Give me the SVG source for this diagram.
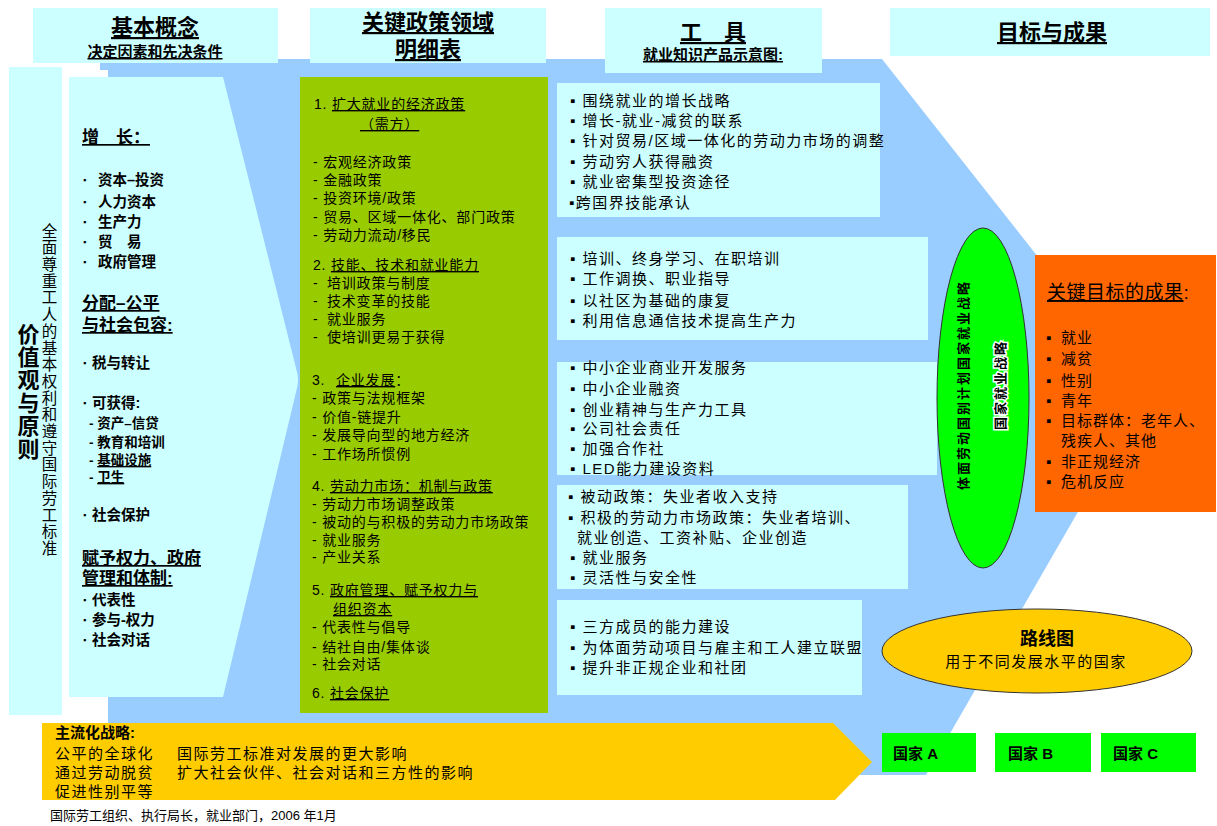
<svg xmlns="http://www.w3.org/2000/svg" width="1217" height="826" viewBox="0 0 1217 826">
<style>
.cy{fill:#CCFFFF}
text{font-family:'Liberation Sans','Noto Sans CJK SC',sans-serif;fill:#000}
.h{font-size:22px;font-weight:bold;text-decoration:underline;text-anchor:middle}
.hs{font-size:15px;font-weight:bold;text-decoration:underline;text-anchor:middle}
.lh{font-size:17px;font-weight:bold}
.lb{font-size:14.5px;font-weight:bold}
.ls{font-size:13.5px;font-weight:bold}
.bu{font-size:9px}
.u{text-decoration:underline}
.g{font-size:14px;letter-spacing:0.8px}
.tl{font-size:15px;letter-spacing:1.5px}
.ob{font-size:15px;letter-spacing:1px}
.cb{font-size:15px;font-weight:bold}
</style>
<rect width="1217" height="826" fill="#FFFFFF"/>
<g id="background">
<polygon points="100,59 882,59 1146,394 926,775 108,775 108,70 100,70" fill="#99CCFF"/>
</g>
<g id="header-concepts">
<rect class="cy" x="33" y="8" width="245" height="55"/>
<text class="h" x="155" y="35">基本概念</text>
<text class="hs" x="155" y="57">决定因素和先决条件</text>
</g>
<g id="header-policy">
<rect class="cy" x="310" y="8" width="236" height="55"/>
<text class="h" x="428" y="30">关键政策领域</text>
<text class="h" x="428" y="57">明细表</text>
</g>
<g id="header-tools">
<rect class="cy" x="605" y="8" width="217" height="65"/>
<text class="h" x="713" y="40">工　具</text>
<text class="hs" x="713" y="60">就业知识产品示意图:</text>
</g>
<g id="header-goals">
<rect class="cy" x="890" y="8" width="320" height="48"/>
<text class="h" x="1052" y="40">目标与成果</text>
</g>
<g id="values">
<rect class="cy" x="9" y="67" width="53" height="648"/>
<text x="26" y="323" style="font-size:22px;font-weight:bold;writing-mode:vertical-rl;letter-spacing:1px">价值观与原则</text>
<text x="48" y="223" style="font-size:15.5px;writing-mode:vertical-rl;letter-spacing:1.2px">全面尊重工人的基本权利和遵守国际劳工标准</text>
</g>
<g id="concepts">
<path class="cy" d="M69,77 H223 L297,372 Q299,380 297,388 L223,697 H69 Z"/>
<text class="lh u" x="82" y="143">增　长：</text>
<text class="bu" x="83" y="183">▪</text><text class="lb" x="98" y="185">资本–投资</text>
<text class="bu" x="83" y="205">▪</text><text class="lb" x="98" y="207">人力资本</text>
<text class="bu" x="83" y="225">▪</text><text class="lb" x="98" y="227">生产力</text>
<text class="bu" x="83" y="245">▪</text><text class="lb" x="98" y="247">贸　易</text>
<text class="bu" x="83" y="265">▪</text><text class="lb" x="98" y="267">政府管理</text>
<text class="lh u" x="82" y="309">分配–公平</text>
<text class="lh u" x="82" y="331">与社会包容:</text>
<text class="bu" x="83" y="366">▪</text><text class="lb" x="92" y="368">税与转让</text>
<text class="bu" x="83" y="406">▪</text><text class="lb" x="92" y="408">可获得:</text>
<text class="ls" x="89" y="428">- 资产–信贷</text>
<text class="ls" x="89" y="447">- 教育和培训</text>
<text class="ls" x="89" y="465">- <tspan class="u">基础设施</tspan></text>
<text class="ls" x="89" y="482">- <tspan class="u">卫生</tspan></text>
<text class="bu" x="83" y="518">▪</text><text class="lb" x="92" y="520">社会保护</text>
<text class="lh u" x="82" y="564">赋予权力、政府</text>
<text class="lh u" x="82" y="584">管理和体制:</text>
<text class="bu" x="83" y="603">▪</text><text class="lb" x="92" y="605">代表性</text>
<text class="bu" x="83" y="623">▪</text><text class="lb" x="92" y="625">参与-权力</text>
<text class="bu" x="83" y="643">▪</text><text class="lb" x="92" y="645">社会对话</text>
</g>
<g id="policy-areas">
<rect x="300" y="77" width="248" height="636" fill="#99CC00"/>
<text class="g" x="314" y="109">1. <tspan class="u">扩大就业的经济政策</tspan></text>
<text class="g u" x="360" y="129">（需方）</text>
<text class="g" x="313" y="167">- 宏观经济政策</text>
<text class="g" x="313" y="185">- 金融政策</text>
<text class="g" x="313" y="203">- 投资环境/政策</text>
<text class="g" x="313" y="222">- 贸易、区域一体化、部门政策</text>
<text class="g" x="313" y="240">- 劳动力流动/移民</text>
<text class="g" x="313" y="270">2. <tspan class="u">技能、技术和就业能力</tspan></text>
<text class="g" x="313" y="288">- <tspan x="327">培训政策与制度</tspan></text>
<text class="g" x="313" y="306">- <tspan x="327">技术变革的技能</tspan></text>
<text class="g" x="313" y="324">- <tspan x="327">就业服务</tspan></text>
<text class="g" x="313" y="342">- <tspan x="327">使培训更易于获得</tspan></text>
<text class="g" x="312" y="385">3. <tspan x="336" class="u">企业发展</tspan>：</text>
<text class="g" x="312" y="403">- 政策与法规框架</text>
<text class="g" x="312" y="422">- 价值-链提升</text>
<text class="g" x="312" y="440">- 发展导向型的地方经济</text>
<text class="g" x="312" y="459">- 工作场所惯例</text>
<text class="g" x="312" y="491">4. <tspan class="u">劳动力市场：机制与政策</tspan></text>
<text class="g" x="312" y="509">- 劳动力市场调整政策</text>
<text class="g" x="312" y="527">- 被动的与积极的劳动力市场政策</text>
<text class="g" x="312" y="545">- 就业服务</text>
<text class="g" x="312" y="562">- 产业关系</text>
<text class="g" x="312" y="595">5. <tspan class="u">政府管理、赋予权力与</tspan></text>
<text class="g u" x="333" y="614">组织资本</text>
<text class="g" x="312" y="632">- 代表性与倡导</text>
<text class="g" x="312" y="652">- 结社自由/集体谈</text>
<text class="g" x="312" y="669">- 社会对话</text>
<text class="g" x="312" y="698">6. <tspan class="u">社会保护</tspan></text>
</g>
<g id="tools-growth">
<rect class="cy" x="557" y="83" width="323" height="134"/>
<text class="tl" x="570" y="106">▪ 围绕就业的增长战略</text>
<text class="tl" x="570" y="126">▪ 增长-就业-减贫的联系</text>
<text class="tl" x="570" y="146">▪ 针对贸易/区域一体化的劳动力市场的调整</text>
<text class="tl" x="570" y="167">▪ 劳动穷人获得融资</text>
<text class="tl" x="570" y="187">▪ 就业密集型投资途径</text>
<text class="tl" x="569" y="208">▪跨国界技能承认</text>
</g>
<g id="tools-skills">
<rect class="cy" x="557" y="237" width="371" height="103"/>
<text class="tl" x="570" y="264">▪ 培训、终身学习、在职培训</text>
<text class="tl" x="570" y="284">▪ 工作调换、职业指导</text>
<text class="tl" x="570" y="306">▪ 以社区为基础的康复</text>
<text class="tl" x="570" y="326">▪ 利用信息通信技术提高生产力</text>
</g>
<g id="tools-enterprise">
<rect class="cy" x="557" y="362" width="380" height="113"/>
<text class="tl" x="570" y="373">▪ 中小企业商业开发服务</text>
<text class="tl" x="570" y="394">▪ 中小企业融资</text>
<text class="tl" x="570" y="415">▪ 创业精神与生产力工具</text>
<text class="tl" x="570" y="434">▪ 公司社会责任</text>
<text class="tl" x="570" y="454">▪ 加强合作社</text>
<text class="tl" x="570" y="474">▪ LED能力建设资料</text>
</g>
<g id="tools-labour">
<rect class="cy" x="557" y="485" width="351" height="104"/>
<text class="tl" x="568" y="502">▪ 被动政策：失业者收入支持</text>
<text class="tl" x="568" y="523">▪ 积极的劳动力市场政策：失业者培训、</text>
<text class="tl" x="577" y="543">就业创造、工资补贴、企业创造</text>
<text class="tl" x="570" y="563">▪ 就业服务</text>
<text class="tl" x="570" y="583">▪ 灵活性与安全性</text>
</g>
<g id="tools-governance">
<rect class="cy" x="557" y="600" width="305" height="95"/>
<text class="tl" x="570" y="632">▪ 三方成员的能力建设</text>
<text class="tl" x="570" y="653">▪ 为体面劳动项目与雇主和工人建立联盟</text>
<text class="tl" x="570" y="673">▪ 提升非正规企业和社团</text>
</g>
<g id="strategy-ellipse">
<ellipse cx="983" cy="398" rx="46" ry="170" fill="#00FF00" stroke="#333333" stroke-width="1"/>
<text x="968" y="385" transform="rotate(-90 968 385)" style="font-size:13px;font-weight:bold;letter-spacing:2px;text-anchor:middle">体面劳动国别计划国家就业战略</text>
<text x="1005" y="385" transform="rotate(-90 1005 385)" style="font-size:13px;font-weight:bold;letter-spacing:2px;text-anchor:middle;stroke:#FFFFFF;stroke-width:3px;paint-order:stroke">国家就业战略</text>
</g>
<g id="key-outcomes">
<rect x="1035" y="255" width="181" height="257" fill="#FF6600"/>
<text x="1047" y="299" style="font-size:19px;letter-spacing:0.5px"><tspan class="u">关键目标的成果</tspan>:</text>
<text class="ob" x="1046" y="343">▪</text><text class="ob" x="1061" y="343">就业</text>
<text class="ob" x="1046" y="364">▪</text><text class="ob" x="1061" y="364">减贫</text>
<text class="ob" x="1046" y="386">▪</text><text class="ob" x="1061" y="386">性别</text>
<text class="ob" x="1046" y="406">▪</text><text class="ob" x="1061" y="406">青年</text>
<text class="ob" x="1046" y="426">▪</text><text class="ob" x="1061" y="426">目标群体：老年人、</text>
<text class="ob" x="1061" y="446">残疾人、其他</text>
<text class="ob" x="1046" y="467">▪</text><text class="ob" x="1061" y="467">非正规经济</text>
<text class="ob" x="1046" y="487">▪</text><text class="ob" x="1061" y="487">危机反应</text>
</g>
<g id="roadmap">
<ellipse cx="1037" cy="651" rx="155" ry="42" fill="#FFCC00" stroke="#333333" stroke-width="1"/>
<text x="1047" y="645" style="font-size:18px;font-weight:bold;text-anchor:middle">路线图</text>
<text x="1036" y="667" style="font-size:15px;letter-spacing:1.5px;text-anchor:middle">用于不同发展水平的国家</text>
</g>
<g id="mainstreaming">
<polygon points="42,723 833,723 872,762 835,800 42,800" fill="#FFCC00"/>
<text x="55" y="738" style="font-size:15px;font-weight:bold">主流化战略:</text>
<text class="tl" x="55" y="759">公平的全球化</text>
<text class="tl" x="177" y="759">国际劳工标准对发展的更大影响</text>
<text class="tl" x="55" y="778">通过劳动脱贫</text>
<text class="tl" x="177" y="778">扩大社会伙伴、社会对话和三方性的影响</text>
<text class="tl" x="55" y="797">促进性别平等</text>
</g>
<g id="country-a">
<rect x="882" y="733" width="94" height="39" fill="#00FF00"/>
<text class="cb" x="893" y="759">国家 A</text>
</g>
<g id="country-b">
<rect x="995" y="733" width="96" height="39" fill="#00FF00"/>
<text class="cb" x="1008" y="759">国家 B</text>
</g>
<g id="country-c">
<rect x="1101" y="733" width="95" height="39" fill="#00FF00"/>
<text class="cb" x="1113" y="759">国家 C</text>
</g>
<g id="connectors"></g>
<g id="footer">
<text x="50" y="820" style="font-size:13px">国际劳工组织、执行局长，就业部门，2006 年1月</text>
</g>
</svg>
